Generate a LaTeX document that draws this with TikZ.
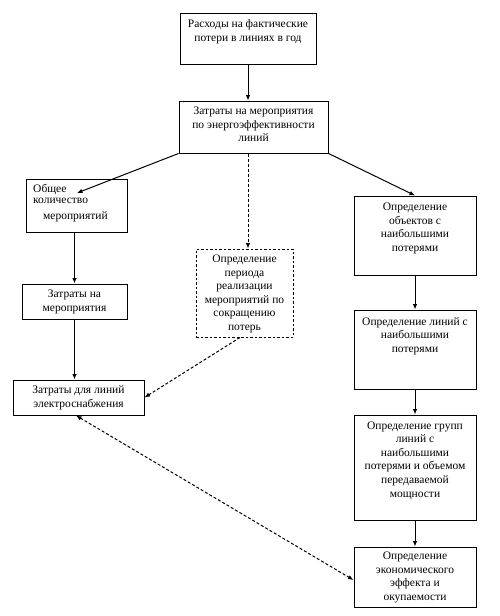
\documentclass[tikz,border=0pt]{standalone}
\usepackage{fontspec}
\setmainfont{Liberation Serif}
\usetikzlibrary{arrows.meta,calc}
\begin{document}
\begin{tikzpicture}[x=1pt,y=-1pt,
  box/.style={draw,line width=1pt,inner sep=0pt,minimum width=#1},
  dbox/.style={draw,dashed,dash pattern=on 2.5pt off 2pt,line width=1pt,inner sep=0pt},
  txt/.style={font=\fontsize{11.5}{13.6}\selectfont,align=center,inner sep=0pt},
  arr/.style={line width=1pt,-{Latex[length=5.5pt,width=4.5pt]}},
  darr/.style={line width=1pt,dash pattern=on 3pt off 2pt,-{Latex[length=5.5pt,width=4.5pt]}},
  ddarr/.style={line width=1pt,dash pattern=on 3pt off 2pt,{Latex[length=5.5pt,width=4.5pt]}-{Latex[length=5.5pt,width=4.5pt]}}]
\useasboundingbox (0,0) rectangle (500,616);
\fill[white] (0,0) rectangle (500,616);

% boxes
\node[box=136pt,minimum height=51pt] (b1) at (248,38.5) {};
\node[box=149pt,minimum height=52pt] (b2) at (253.5,127) {};
\node[box=101pt,minimum height=53pt] (ob) at (76.5,205.5) {};
\node[box=105pt,minimum height=35pt] (zm) at (74.5,301.5) {};
\node[box=131pt,minimum height=35pt] (zl) at (78.5,397.5) {};
\node[dbox,minimum width=97pt,minimum height=88pt] (db) at (244.5,293) {};
\node[box=122pt,minimum height=79pt] (r1) at (415,235.5) {};
\node[box=122pt,minimum height=79pt] (r2) at (415,349.5) {};
\node[box=122pt,minimum height=105pt] (r3) at (415,467.5) {};
\node[box=122pt,minimum height=60pt] (r4) at (415,577) {};

% texts
\node[txt] (t1) at (248,32) {Расходы на фактические\\потери в линиях в год};
\node[txt] (t2) at (253.5,124.5) {Затраты на мероприятия\\по энергоэффективности\\линий};
\node[txt,anchor=north west] (tob1) at (33,184.5) {Общее};
\node[txt,anchor=north west] (tob2) at (33,198) {количество};
\node[txt,anchor=north west] (tob3) at (43,211.5) {мероприятий};
\node[txt] (tzm) at (74.5,302) {Затраты на\\мероприятия};
\node[txt] (tzl) at (78.5,398) {Затраты для линий\\электроснабжения};
\node[txt] (tdb) at (244.5,294) {Определение\\периода\\реализации\\мероприятий по\\сокращению\\потерь};
\node[txt] (tr1) at (415,228.5) {Определение\\объектов с\\наибольшими\\потерями};
\node[txt] (tr2) at (415,336) {Определение линий с\\наибольшими\\потерями};
\node[txt] (tr3) at (415,460.5) {Определение групп\\линий с\\наибольшими\\потерями и объемом\\передаваемой\\мощности};
\node[txt] (tr4) at (415,577.5) {Определение\\экономического\\эффекта и\\окупаемости};

% connectors
\coordinate (obtip) at (77,193);
\draw[arr] (b1.south) -- (b1.south |- b2.north);
\draw[arr] (b2.south west) -- (obtip);
\draw[darr] (b1.south |- b2.south) -- (b1.south |- db.north);
\draw[arr] (b2.south east) -- (r1.north);
\draw[arr] (r1.south) -- (r2.north);
\draw[arr] (r2.south) -- (r3.north);
\draw[arr] (r3.south) -- (r4.north);
\draw[arr] (zm.north |- ob.south) -- (zm.north);
\draw[arr] (zm.south) -- (zm.south |- zl.north);
\draw[darr] ($(db.south)+(-4.5,0)$) -- (zl.east);
\draw[ddarr] ($(zl.south)+(-2.5,0)$) -- ($(r4.west)+(0,3)$);
\end{tikzpicture}
\end{document}
